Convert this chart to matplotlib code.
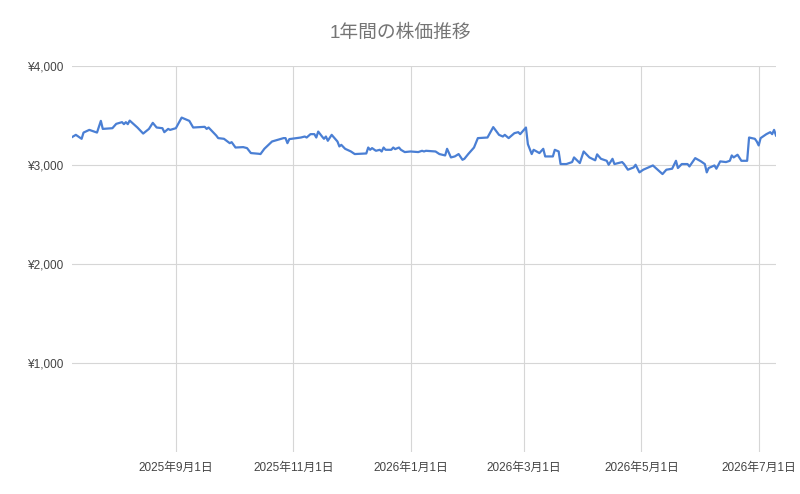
import matplotlib
matplotlib.use('Agg')
import matplotlib.pyplot as plt
import matplotlib.ticker as mticker
import pandas as pd

plt.rcParams['font.family'] = ['Liberation Sans', 'Noto Sans CJK JP', 'DejaVu Sans']

title = '1年間の株価推移'

dates = [
    '2025-07-09', '2025-07-11', '2025-07-14', '2025-07-15', '2025-07-18', '2025-07-22',
    '2025-07-24', '2025-07-25', '2025-07-30', '2025-08-01', '2025-08-04', '2025-08-05',
    '2025-08-06', '2025-08-07', '2025-08-08', '2025-08-12', '2025-08-15', '2025-08-18',
    '2025-08-20', '2025-08-22', '2025-08-25', '2025-08-26', '2025-08-28', '2025-08-29',
    '2025-09-01', '2025-09-04', '2025-09-08', '2025-09-10', '2025-09-16', '2025-09-17',
    '2025-09-18', '2025-09-22', '2025-09-23', '2025-09-26', '2025-09-29', '2025-09-30',
    '2025-10-02', '2025-10-06', '2025-10-08', '2025-10-10', '2025-10-14', '2025-10-15',
    '2025-10-17', '2025-10-21', '2025-10-24', '2025-10-27', '2025-10-28', '2025-10-29',
    '2025-10-30', '2025-11-05', '2025-11-07', '2025-11-08', '2025-11-10', '2025-11-12',
    '2025-11-13', '2025-11-14', '2025-11-16', '2025-11-17', '2025-11-18', '2025-11-19',
    '2025-11-21', '2025-11-24', '2025-11-25', '2025-11-26', '2025-11-28', '2025-12-01',
    '2025-12-03', '2025-12-09', '2025-12-10', '2025-12-11', '2025-12-12', '2025-12-14',
    '2025-12-16', '2025-12-17', '2025-12-18', '2025-12-19', '2025-12-22', '2025-12-23',
    '2025-12-24', '2025-12-26', '2025-12-27', '2025-12-29', '2026-01-01', '2026-01-05',
    '2026-01-07', '2026-01-08', '2026-01-09', '2026-01-14', '2026-01-16', '2026-01-19',
    '2026-01-20', '2026-01-22', '2026-01-24', '2026-01-26', '2026-01-28', '2026-01-29',
    '2026-01-31', '2026-02-02', '2026-02-03', '2026-02-05', '2026-02-10', '2026-02-13',
    '2026-02-16', '2026-02-18', '2026-02-19', '2026-02-21', '2026-02-24', '2026-02-26',
    '2026-02-27', '2026-03-02', '2026-03-03', '2026-03-05', '2026-03-06', '2026-03-09',
    '2026-03-11', '2026-03-12', '2026-03-16', '2026-03-17', '2026-03-19', '2026-03-20',
    '2026-03-23', '2026-03-26', '2026-03-27', '2026-03-30', '2026-04-01', '2026-04-04',
    '2026-04-07', '2026-04-08', '2026-04-10', '2026-04-13', '2026-04-14', '2026-04-16',
    '2026-04-17', '2026-04-21', '2026-04-22', '2026-04-24', '2026-04-27', '2026-04-28',
    '2026-04-30', '2026-05-02', '2026-05-07', '2026-05-10', '2026-05-12', '2026-05-14',
    '2026-05-17', '2026-05-19', '2026-05-20', '2026-05-22', '2026-05-25', '2026-05-26',
    '2026-05-29', '2026-06-01', '2026-06-03', '2026-06-04', '2026-06-05', '2026-06-08',
    '2026-06-09', '2026-06-11', '2026-06-14', '2026-06-16', '2026-06-17', '2026-06-18',
    '2026-06-20', '2026-06-22', '2026-06-25', '2026-06-26', '2026-06-29', '2026-06-30',
    '2026-07-01', '2026-07-02', '2026-07-05', '2026-07-07', '2026-07-08', '2026-07-09',
    '2026-07-10',
]

prices = [
    3279, 3302, 3262, 3325, 3352, 3325,
    3443, 3362, 3369, 3413, 3430, 3410,
    3430, 3410, 3446, 3376, 3315, 3362,
    3423, 3376, 3369, 3329, 3362, 3352,
    3369, 3476, 3443, 3376, 3383, 3362,
    3376, 3295, 3269, 3262, 3218, 3228,
    3174, 3178, 3168, 3118, 3111, 3108,
    3161, 3235, 3252, 3269, 3269, 3218,
    3259, 3275, 3285, 3275, 3309, 3309,
    3275, 3335, 3285, 3262, 3285, 3242,
    3302, 3235, 3185, 3201, 3161, 3134,
    3108, 3114, 3174, 3151, 3168, 3141,
    3151, 3134, 3174, 3151, 3151, 3174,
    3158, 3174, 3151, 3128, 3134, 3128,
    3141, 3134, 3141, 3134, 3108, 3094,
    3161, 3074, 3084, 3108, 3050, 3060,
    3108, 3151, 3174, 3269, 3275, 3380,
    3302, 3285, 3302, 3269, 3319, 3329,
    3309, 3376, 3208, 3108, 3151, 3118,
    3161, 3084, 3084, 3151, 3134, 3007,
    3007, 3027, 3074, 3017, 3134, 3074,
    3045, 3105, 3060, 3040, 3000, 3060,
    3007, 3027, 3007, 2950, 2973, 3000,
    2923, 2950, 2993, 2940, 2906, 2950,
    2960, 3040, 2967, 3007, 3007, 2983,
    3067, 3034, 3007, 2923, 2967, 2993,
    2960, 3034, 3027, 3040, 3094, 3074,
    3101, 3040, 3040, 3275, 3262, 3235,
    3195, 3269, 3309, 3329, 3309, 3352,
    3295,
]

tick_dates = ['2025-09-01', '2025-11-01', '2026-01-01', '2026-03-01', '2026-05-01', '2026-07-01']
tick_labels = ['2025年9月1日', '2025年11月1日', '2026年1月1日', '2026年3月1日', '2026年5月1日', '2026年7月1日']
y_ticks = [1000, 2000, 3000, 4000]

x = pd.to_datetime(dates)

fig = plt.figure(figsize=(8, 4.94), dpi=100)
ax = fig.add_axes([0.09, 0.085, 0.88, 0.782])

ax.plot(x, prices, color='#4a7fd4', linewidth=1.6, solid_joinstyle='round')

ax.set_xlim(x[0], x[-1])
ax.set_ylim(100, 4000)
ax.set_yticks(y_ticks)
ax.yaxis.set_major_formatter(mticker.FuncFormatter(lambda v, p: '¥{:,}'.format(int(v))))
ax.set_xticks(pd.to_datetime(tick_dates))
ax.set_xticklabels(tick_labels)

ax.grid(True, color='#d6d6d6', linewidth=0.8)
ax.set_axisbelow(True)
for s in ax.spines.values():
    s.set_visible(False)
ax.tick_params(length=0, labelsize=8.5, colors='#444444')
ax.tick_params(axis='x', pad=7)
ax.tick_params(axis='y', pad=6)

fig.text(0.5, 0.933, title, ha='center', va='center', fontsize=13.5, color='#757575')

fig.savefig('out.png', dpi=100)
